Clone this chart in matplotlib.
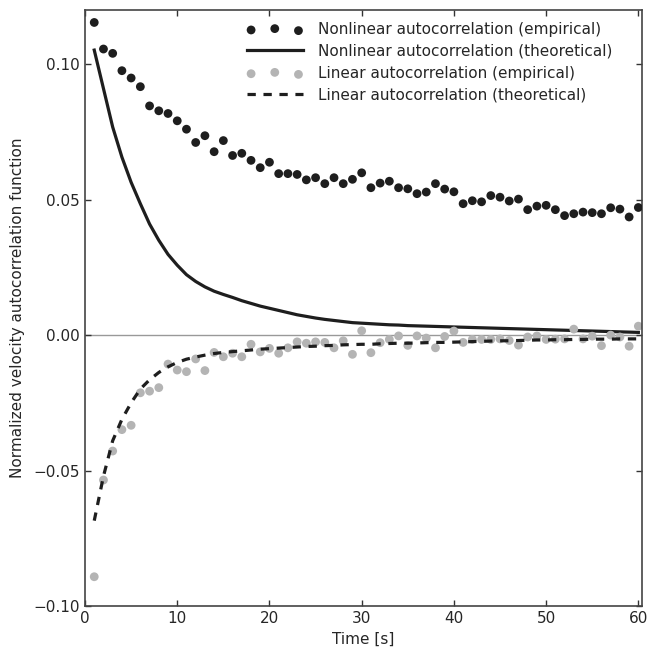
import numpy as np
import matplotlib
matplotlib.use("Agg")
import matplotlib.pyplot as plt

# czas [s]
t = np.arange(1, 61)

# autokorelacja nieliniowa - punkty empiryczne
nonlin_emp = [
    0.1154, 0.1056, 0.1040, 0.0976, 0.0949, 0.0917, 0.0846, 0.0828, 0.0818, 0.0791,
    0.0760, 0.0711, 0.0736, 0.0677, 0.0718, 0.0663, 0.0671, 0.0645, 0.0618, 0.0638,
    0.0596, 0.0596, 0.0593, 0.0573, 0.0581, 0.0559, 0.0581, 0.0559, 0.0575, 0.0599,
    0.0544, 0.0561, 0.0568, 0.0544, 0.0540, 0.0522, 0.0528, 0.0559, 0.0539, 0.0529,
    0.0485, 0.0496, 0.0492, 0.0515, 0.0509, 0.0495, 0.0502, 0.0463, 0.0476, 0.0479,
    0.0463, 0.0441, 0.0448, 0.0454, 0.0452, 0.0448, 0.0470, 0.0465, 0.0436, 0.0471,
]

# autokorelacja nieliniowa - krzywa teoretyczna
nonlin_theo = [
    0.1052, 0.0910, 0.0768, 0.0657, 0.0564, 0.0485, 0.0410, 0.0350, 0.0298, 0.0258,
    0.0223, 0.0198, 0.0178, 0.0162, 0.0150, 0.0139, 0.0127, 0.0117, 0.0107, 0.0099,
    0.0091, 0.0083, 0.0075, 0.0069, 0.0063, 0.0058, 0.0054, 0.0050, 0.0046, 0.0044,
    0.0042, 0.0040, 0.0038, 0.0037, 0.0035, 0.0034, 0.0033, 0.0032, 0.0031, 0.0030,
    0.0029, 0.0028, 0.0027, 0.0026, 0.0025, 0.0024, 0.0023, 0.0022, 0.0021, 0.0020,
    0.0019, 0.0018, 0.0017, 0.0016, 0.0015, 0.0014, 0.0013, 0.0012, 0.0011, 0.0010,
]

# autokorelacja liniowa - punkty empiryczne
lin_emp = [
    -0.0892, -0.0535, -0.0428, -0.0349, -0.0333, -0.0213, -0.0207, -0.0194, -0.0107, -0.0129,
    -0.0135, -0.0088, -0.0131, -0.0064, -0.0080, -0.0067, -0.0080, -0.0034, -0.0062, -0.0049,
    -0.0067, -0.0047, -0.0025, -0.0030, -0.0025, -0.0027, -0.0047, -0.0021, -0.0071, 0.0016,
    -0.0065, -0.0028, -0.0016, -0.0003, -0.0038, -0.0003, -0.0011, -0.0047, -0.0005, 0.0015,
    -0.0027, -0.0016, -0.0016, -0.0016, -0.0014, -0.0020, -0.0037, -0.0007, -0.0003, -0.0016,
    -0.0015, -0.0014, 0.0022, -0.0014, -0.0004, -0.0039, 0.0000, -0.0007, -0.0041, 0.0033,
]

# autokorelacja liniowa - krzywa teoretyczna
lin_theo = [
    -0.0685, -0.0521, -0.0390, -0.0311, -0.0250, -0.0199, -0.0165, -0.0138, -0.0117, -0.0101,
    -0.0089, -0.0081, -0.0074, -0.0068, -0.0064, -0.0061, -0.0058, -0.0055, -0.0052, -0.0050,
    -0.0048, -0.0046, -0.0044, -0.0042, -0.0041, -0.0039, -0.0038, -0.0036, -0.0035, -0.0034,
    -0.0034, -0.0032, -0.0031, -0.0030, -0.0030, -0.0029, -0.0028, -0.0027, -0.0027, -0.0026,
    -0.0025, -0.0024, -0.0023, -0.0022, -0.0021, -0.0021, -0.0020, -0.0019, -0.0018, -0.0018,
    -0.0017, -0.0017, -0.0016, -0.0016, -0.0015, -0.0015, -0.0015, -0.0014, -0.0014, -0.0014,
]

plt.rcParams["font.family"] = ["DejaVu Sans"]
plt.rcParams["font.size"] = 11

fig = plt.figure(figsize=(6.48, 6.5), dpi=100)
ax = fig.add_axes([0.1312, 0.0677, 0.8596, 0.9169])

ax.axhline(0, color="#999999", lw=1.0, zorder=1)

ax.scatter(t, nonlin_emp, s=40, color="#1e1e1e", edgecolors="none", zorder=3,
           label="Nonlinear autocorrelation (empirical)")
ax.plot(t, nonlin_theo, color="#1e1e1e", lw=2.3, zorder=2,
        label="Nonlinear autocorrelation (theoretical)")
ax.scatter(t, lin_emp, s=40, color="#b4b4b4", edgecolors="none", zorder=2,
           label="Linear autocorrelation (empirical)")
ax.plot(t, lin_theo, color="#1e1e1e", lw=2.3, ls=(0, (2.6, 2.4)), zorder=3,
        label="Linear autocorrelation (theoretical)")

ax.set_xlim(0, 60.4)
ax.set_ylim(-0.10, 0.12)
ax.set_xticks([0, 10, 20, 30, 40, 50, 60])
ax.set_yticks([-0.10, -0.05, 0.00, 0.05, 0.10])
ax.set_yticklabels(["\u22120.10", "\u22120.05", "0.00", "0.05", "0.10"])

ax.tick_params(direction="in", length=4, width=1, top=True, right=True,
               colors="#333333", labelcolor="#262626", labelsize=11)
for sp in ax.spines.values():
    sp.set_color("#444444")
    sp.set_linewidth(1.2)

ax.set_xlabel("Time [s]", fontsize=11, color="#262626", labelpad=4)
ax.set_ylabel("Normalized velocity autocorrelation function", fontsize=11,
              color="#262626", labelpad=6)

ax.legend(loc="upper right", bbox_to_anchor=(0.972, 1.003), frameon=False,
          scatterpoints=3, handlelength=3.7, handletextpad=1.0,
          labelspacing=0.45, fontsize=11, labelcolor="#262626")

fig.savefig("out.png", dpi=100)
